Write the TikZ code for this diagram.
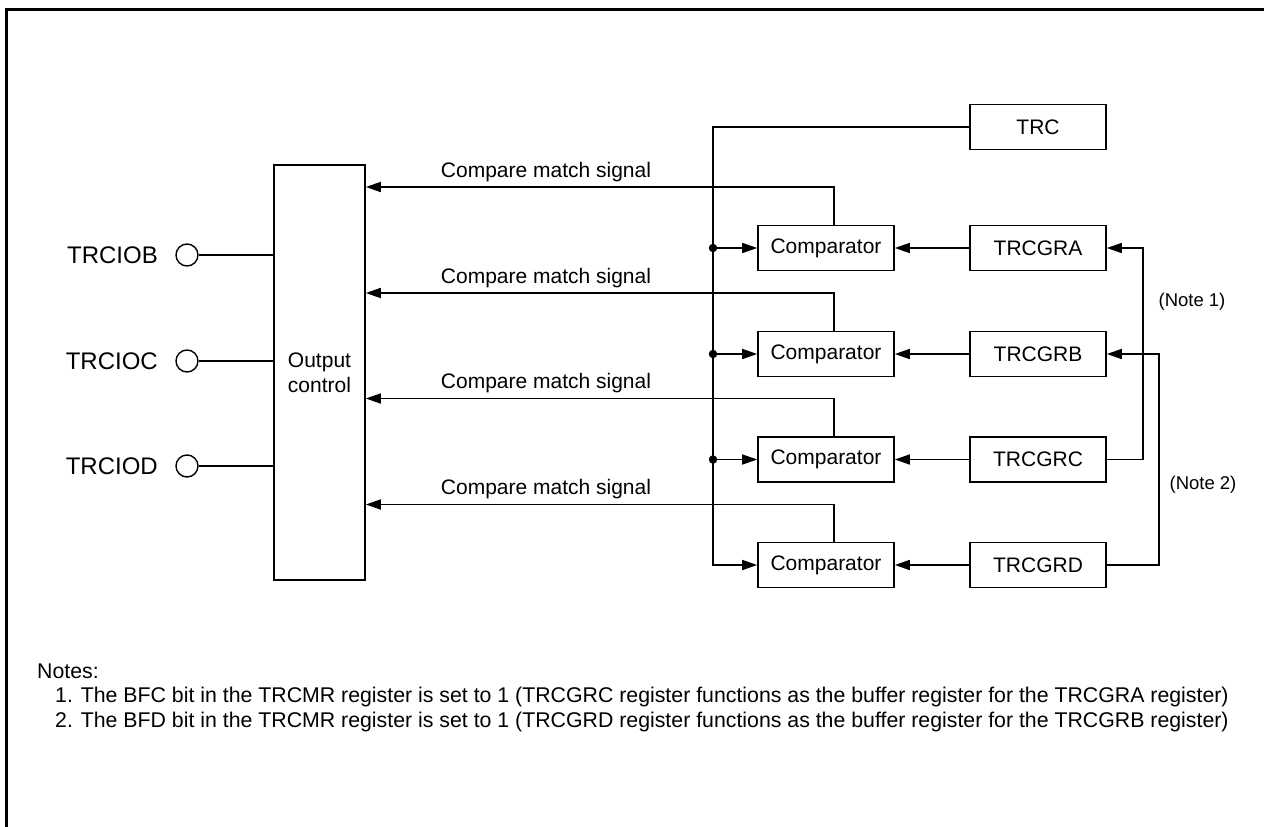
\documentclass[tikz,border=0pt]{standalone}
\usepackage{fontspec}
\setmainfont{Liberation Sans}
\usetikzlibrary{arrows.meta}
\begin{document}
\begin{tikzpicture}[x=1bp,y=-1bp,
  ln/.style={line width=1.6bp},
  arr/.style={ln,-{Triangle[length=15bp,width=10bp]}},
  blk/.style={draw,ln,minimum width=136bp,minimum height=45bp,inner sep=0pt,font=\fontsize{21bp}{25bp}\selectfont},
  pin/.style={draw,line width=1.4bp,circle,minimum size=22bp,inner sep=0pt},
  lbl/.style={font=\fontsize{21bp}{25bp}\selectfont,inner sep=0pt},
  pinlbl/.style={font=\fontsize{24bp}{28bp}\selectfont,inner sep=0pt},
  sml/.style={font=\fontsize{18.5bp}{22bp}\selectfont,inner sep=0pt},
  nts/.style={font=\fontsize{21.3bp}{25bp}\selectfont,inner sep=0pt},
  dot/.style={fill,circle,minimum size=8.5bp,inner sep=0pt}]
\useasboundingbox (0,0) rectangle (1264,827);
% frame
\draw[line width=3bp] (6,827) -- (6,9.5) -- (1264,9.5);
% output control
\node[draw,ln,minimum width=91bp,minimum height=415bp,inner sep=0pt,align=center,
  font=\fontsize{21bp}{25bp}\selectfont] (oc) at (319.5,372.5) {Output\\control};
% pins
\node[pin] (pB) at (187,255) {};
\node[pin] (pC) at (187,361) {};
\node[pin] (pD) at (187,466) {};
\node[pinlbl,anchor=east] (tB) at (158,255) {TRCIOB};
\node[pinlbl,anchor=east] (tC) at (158,361) {TRCIOC};
\node[pinlbl,anchor=east] (tD) at (158,466) {TRCIOD};
\draw[ln] (pB.east) -- (pB -| oc.west);
\draw[ln] (pC.east) -- (pC -| oc.west);
\draw[ln] (pD.east) -- (pD -| oc.west);
% comparators and registers
\node[blk] (trc) at (1038,127) {TRC};
\node[blk] (cA) at (826,248) {Comparator};
\node[blk] (cB) at (826,354) {Comparator};
\node[blk] (cC) at (826,459.5) {Comparator};
\node[blk] (cD) at (826,565) {Comparator};
\node[blk] (gA) at (1038,248) {TRCGRA};
\node[blk] (gB) at (1038,354) {TRCGRB};
\node[blk] (gC) at (1038,459.5) {TRCGRC};
\node[blk] (gD) at (1038,565) {TRCGRD};
\draw[arr] (gA) -- (cA);
\draw[arr] (gB) -- (cB);
\draw[arr] (gC) -- (cC);
\draw[arr] (gD) -- (cD);
% counter bus
\coordinate (bus) at (713,127);
\node[dot] (dA) at (713,248) {};
\node[dot] (dB) at (713,354) {};
\node[dot] (dC) at (713,459.5) {};
\draw[arr] (trc.west) -- (bus) |- (cD.west);
\draw[arr] (dA.center) -- (cA.west);
\draw[arr] (dB.center) -- (cB.west);
\draw[arr] (dC.center) -- (cC.west);
% compare match signals
\coordinate (sA) at (0,187);
\coordinate (sB) at (0,293);
\coordinate (sC) at (0,398.5);
\coordinate (sD) at (0,504.5);
\draw[arr] ([xshift=8bp]cA.north) |- (sA -| oc.east);
\draw[arr] ([xshift=8bp]cB.north) |- (sB -| oc.east);
\draw[arr] ([xshift=8bp]cC.north) |- (sC -| oc.east);
\draw[arr] ([xshift=8bp]cD.north) |- (sD -| oc.east);
\node[lbl] (mA) at (546,172) {Compare match signal};
\node[lbl] (mB) at (546,278) {Compare match signal};
\node[lbl] (mC) at (546,383.5) {Compare match signal};
\node[lbl] (mD) at (546,489.5) {Compare match signal};
% buffer loops
\coordinate (n1) at (1143,354);
\coordinate (n2) at (1159,459.5);
\draw[arr] (gC.east) -| (n1) |- (gA.east);
\draw[arr] (gD.east) -| (n2) |- (gB.east);
\node[sml] (k1) at (1192,302) {(Note 1)};
\node[sml] (k2) at (1203,485) {(Note 2)};
% notes
\node[nts,anchor=west] (nt) at (37,671) {Notes:};
\node[nts,anchor=west] (n1t) at (55,697) {1. The BFC bit in the TRCMR register is set to 1 (TRCGRC register functions as the buffer register for the TRCGRA register)};
\node[nts,anchor=west] (n2t) at (55,722) {2. The BFD bit in the TRCMR register is set to 1 (TRCGRD register functions as the buffer register for the TRCGRB register)};
\end{tikzpicture}
\end{document}
